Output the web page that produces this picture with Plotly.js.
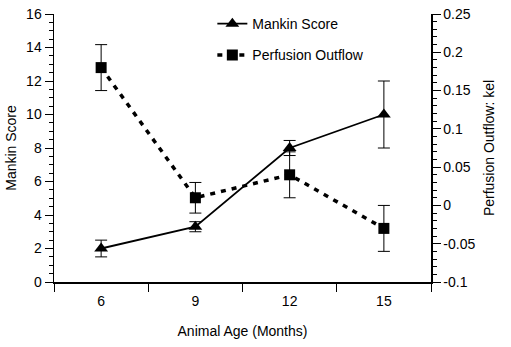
<!DOCTYPE html>
<html><head><meta charset="utf-8">
<script src="https://cdn.plot.ly/plotly-3.0.1.min.js"></script>
<style>html,body{margin:0;padding:0;background:#fff}#chart{width:511px;height:347px}</style>
</head><body><div id="chart"></div>
<script>
const ages = ["6", "9", "12", "15"];
const mankin = [2, 3.3, 8, 10];
const mankinErr = [0.5, 0.3, 0.45, 2];
const perfusion = [0.18, 0.01, 0.04, -0.03];
const perfusionErr = [0.03, 0.02, 0.03, 0.03];
const leftTicks = [0, 2, 4, 6, 8, 10, 12, 14, 16];
const rightTicks = [-0.1, -0.05, 0, 0.05, 0.1, 0.15, 0.2, 0.25];
const rightTickText = ["-0.1", "-0.05", "0", "0.05", "0.1", "0.15", "0.2", "0.25"];

const font = {family: "Liberation Sans, Arial, sans-serif", size: 14, color: "#000"};

const traces = [
  {x: ages, y: mankin, name: "Mankin Score", type: "scatter", mode: "lines+markers",
   legendgroup: "a",
   line: {color: "#000", width: 1.8},
   marker: {symbol: "triangle-up", size: 12, color: "#000"},
   error_y: {type: "data", array: mankinErr, visible: true, color: "#000", thickness: 1, width: 6},
   yaxis: "y"},
  {x: ages, y: perfusion, name: "Perfusion Outflow", type: "scatter", mode: "lines+markers",
   legendgroup: "b",
   line: {color: "#000", width: 3.5, dash: "5px,6px"},
   marker: {symbol: "square", size: 11, color: "#000"},
   error_y: {type: "data", array: perfusionErr, visible: true, color: "#000", thickness: 1, width: 6},
   yaxis: "y2"}
];

const layout = {
  width: 511, height: 347,
  margin: {l: 54, r: 80, t: 14, b: 65, autoexpand: false},
  paper_bgcolor: "#fff", plot_bgcolor: "#fff",
  font: font,
  showlegend: true,
  legend: {x: 0.42, y: 1.022, xanchor: "left", yanchor: "top", font: font,
           bgcolor: "rgba(0,0,0,0)", tracegroupgap: 10, itemwidth: 30},
  xaxis: {type: "category", range: [-0.5, 3.5], tickson: "boundaries",
          ticks: "outside", ticklen: 8, tickwidth: 1, tickcolor: "#000",
          ticklabelstandoff: 6,
          showline: true, linecolor: "#000", linewidth: 1.5, showgrid: false, zeroline: false,
          tickfont: font,
          title: {text: "Animal Age (Months)", font: font, standoff: 18}},
  yaxis: {range: [0, 16], tickvals: leftTicks, ticks: "outside", ticklen: 8, tickwidth: 1, tickcolor: "#000",
          minor: {dtick: 0.5, ticks: "outside", ticklen: 4, tickcolor: "#000", showgrid: false},
          showline: true, linecolor: "#000", linewidth: 1.5, showgrid: false, zeroline: false,
          tickfont: font,
          title: {text: "Mankin Score", font: font, standoff: 6}},
  yaxis2: {range: [-0.1, 0.25], overlaying: "y", side: "right", anchor: "x",
           tickvals: rightTicks, ticktext: rightTickText,
           ticks: "outside", ticklen: 8, tickwidth: 1, tickcolor: "#000",
           minor: {dtick: 0.01, ticks: "outside", ticklen: 4, tickcolor: "#000", showgrid: false},
           showline: true, linecolor: "#000", linewidth: 1.5, showgrid: false, zeroline: false,
           tickfont: font,
           title: {text: "Perfusion Outflow: kel", font: font, standoff: 10}}
};

Plotly.newPlot("chart", traces, layout, {displayModeBar: false, staticPlot: true});
</script>
</body></html>
